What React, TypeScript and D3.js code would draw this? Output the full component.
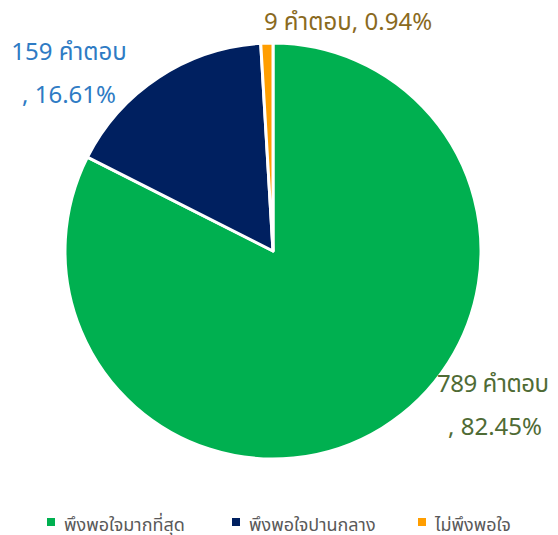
import React from "react";
import * as d3 from "d3";

const categories = ["พึงพอใจมากที่สุด", "พึงพอใจปานกลาง", "ไม่พึงพอใจ"];
const counts = [789, 159, 9];
const percents = ["82.45%", "16.61%", "0.94%"];
const colors = ["#00B050", "#002060", "#FF9E00"];
const labelColors = ["#4F6B35", "#2E7BC4", "#8A6A1E"];

const W = 558, H = 535;
const cx = 273, cy = 251, R = 208;
const font = "'Noto Sans', 'Noto Sans Thai', Tahoma, sans-serif";

export default function App() {
  const pie = d3.pie<number>().sort(null).value((d) => d);
  const arcs = pie(counts);
  const arcGen = d3.arc<d3.PieArcDatum<number>>().innerRadius(0).outerRadius(R);
  return (
    <svg width={W} height={H} style={{ position: "absolute", left: 0, top: 0 }}>
      <rect width={W} height={H} fill="#fff" />
      <g transform={`translate(${cx},${cy})`}>
        {arcs.map((a, i) => (
          <path key={i} d={arcGen(a) || ""} fill={colors[i]} stroke="#fff" strokeWidth={3} strokeLinejoin="round" />
        ))}
      </g>
      <g fontFamily={font} fontSize={24} textAnchor="middle">
        <text x={493} y={392} fill={labelColors[0]} textLength={112}>{counts[0]} คำตอบ</text>
        <text x={495} y={435} fill={labelColors[0]}>, {percents[0]}</text>
        <text x={69} y={60} fill={labelColors[1]}>{counts[1]} คำตอบ</text>
        <text x={69} y={103} fill={labelColors[1]}>, {percents[1]}</text>
        <text x={348} y={30} fill={labelColors[2]}>{counts[2]} คำตอบ, {percents[2]}</text>
      </g>
      <g fontFamily={font} fontSize={18} fill="#595959">
        {categories.map((c, i) => {
          const x = [47, 232, 418][i];
          return (
            <g key={i}>
              <rect x={x} y={518} width={8} height={8} fill={colors[i]} />
              <text x={x + 17} y={531}>{c}</text>
            </g>
          );
        })}
      </g>
    </svg>
  );
}
